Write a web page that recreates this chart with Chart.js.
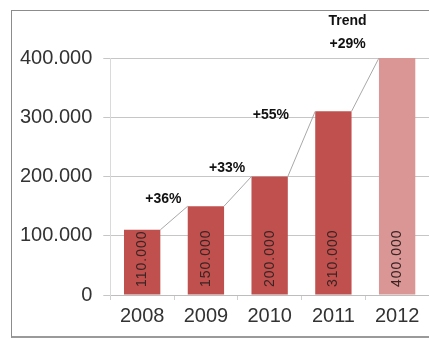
<!DOCTYPE html>
<html>
<head>
<meta charset="utf-8">
<script src="https://cdn.jsdelivr.net/npm/chart.js@4.4.1/dist/chart.umd.min.js"></script>
<style>
  html, body { margin: 0; padding: 0; background: #fff; }
  #wrap { position: relative; width: 429px; height: 340px; overflow: hidden; }
  #frame {
    position: absolute; left: 11px; top: 10px; width: 480px; height: 325px;
    border: 1px solid #8c8c8c; border-bottom: 2px solid #9a9a9a;
    pointer-events: none;
  }
</style>
</head>
<body>
<div id="wrap">
  <canvas id="chart" width="429" height="340"></canvas>
  <div id="frame"></div>
</div>
<script>
// yearly totals
const years = ['2008', '2009', '2010', '2011', '2012'];
const totals = [110000, 150000, 200000, 310000, 400000];
const yTickValues = [0, 100000, 200000, 300000, 400000];
const barColors = ['#C0504D', '#C0504D', '#C0504D', '#C0504D', '#D99694'];
const trendTitle = 'Trend';

const fmt = v => v.toLocaleString('de-DE');

// growth label placement relative to the left bar's right edge / next bar's top
const growthOffsets = [
  { dx: 3, dy: -7 },
  { dx: 3, dy: -8 },
  { dx: -17, dy: 4 },
  { dx: -4, dy: -14 }
];

const annotate = {
  id: 'annotate',
  afterDatasetsDraw(chart) {
    const ctx = chart.ctx;
    const bars = chart.getDatasetMeta(0).data;
    const base = chart.scales.y.getPixelForValue(0);

    ctx.save();
    // connectors between bar tops
    ctx.strokeStyle = '#a8a8a8';
    ctx.lineWidth = 1;
    for (let i = 0; i < bars.length - 1; i++) {
      const a = bars[i], b = bars[i + 1];
      ctx.beginPath();
      ctx.moveTo(a.x + a.width / 2, a.y);
      ctx.lineTo(b.x - b.width / 2, b.y);
      ctx.stroke();
    }

    // values inside the bars, reading upward
    ctx.font = '14px "Liberation Sans", Arial, sans-serif';
    ctx.fillStyle = '#3a2424';
    ctx.textAlign = 'left';
    ctx.textBaseline = 'middle';
    ctx.letterSpacing = '1px';
    bars.forEach((bar, i) => {
      ctx.save();
      ctx.translate(bar.x, base - 8);
      ctx.rotate(-Math.PI / 2);
      ctx.fillText(fmt(totals[i]), 0, 0);
      ctx.restore();
    });
    ctx.letterSpacing = '0px';

    // growth percentages
    ctx.font = 'bold 14px "Liberation Sans", Arial, sans-serif';
    ctx.fillStyle = '#111';
    ctx.textAlign = 'center';
    for (let i = 0; i < bars.length - 1; i++) {
      const pct = Math.round((totals[i + 1] / totals[i] - 1) * 100);
      const a = bars[i], b = bars[i + 1];
      const o = growthOffsets[i];
      const x = a.x + a.width / 2 + o.dx;
      const y = b.y + o.dy;
      ctx.fillText('+' + pct + '%', x, y);
      if (i === bars.length - 2) ctx.fillText(trendTitle, x, y - 23);
    }
    ctx.restore();
  }
};

new Chart(document.getElementById('chart'), {
  type: 'bar',
  data: {
    labels: years,
    datasets: [{
      data: totals,
      backgroundColor: barColors,
      borderWidth: 0,
      categoryPercentage: 1,
      barPercentage: 0.57
    }]
  },
  options: {
    responsive: false,
    animation: false,
    devicePixelRatio: 1,
    layout: { padding: { top: 58, left: 9, right: 0, bottom: 8 } },
    plugins: { legend: { display: false }, tooltip: { enabled: false } },
    scales: {
      x: {
        grid: { display: true, drawOnChartArea: false, drawTicks: true, tickLength: 5, color: '#d0d0d0', offset: true },
        border: { color: '#bdbdbd' },
        ticks: { color: '#333', padding: 4, font: { family: '"Liberation Sans", Arial, sans-serif', size: 20 } }
      },
      y: {
        min: 0,
        max: 400000,
        afterBuildTicks: axis => { axis.ticks = yTickValues.map(v => ({ value: v })); },
        grid: { color: '#c6c6c6', tickLength: 7 },
        border: { color: '#dadada' },
        ticks: {
          color: '#333', padding: 11,
          font: { family: '"Liberation Sans", Arial, sans-serif', size: 20 },
          callback: v => fmt(v)
        }
      }
    }
  },
  plugins: [annotate]
});
</script>
</body>
</html>
